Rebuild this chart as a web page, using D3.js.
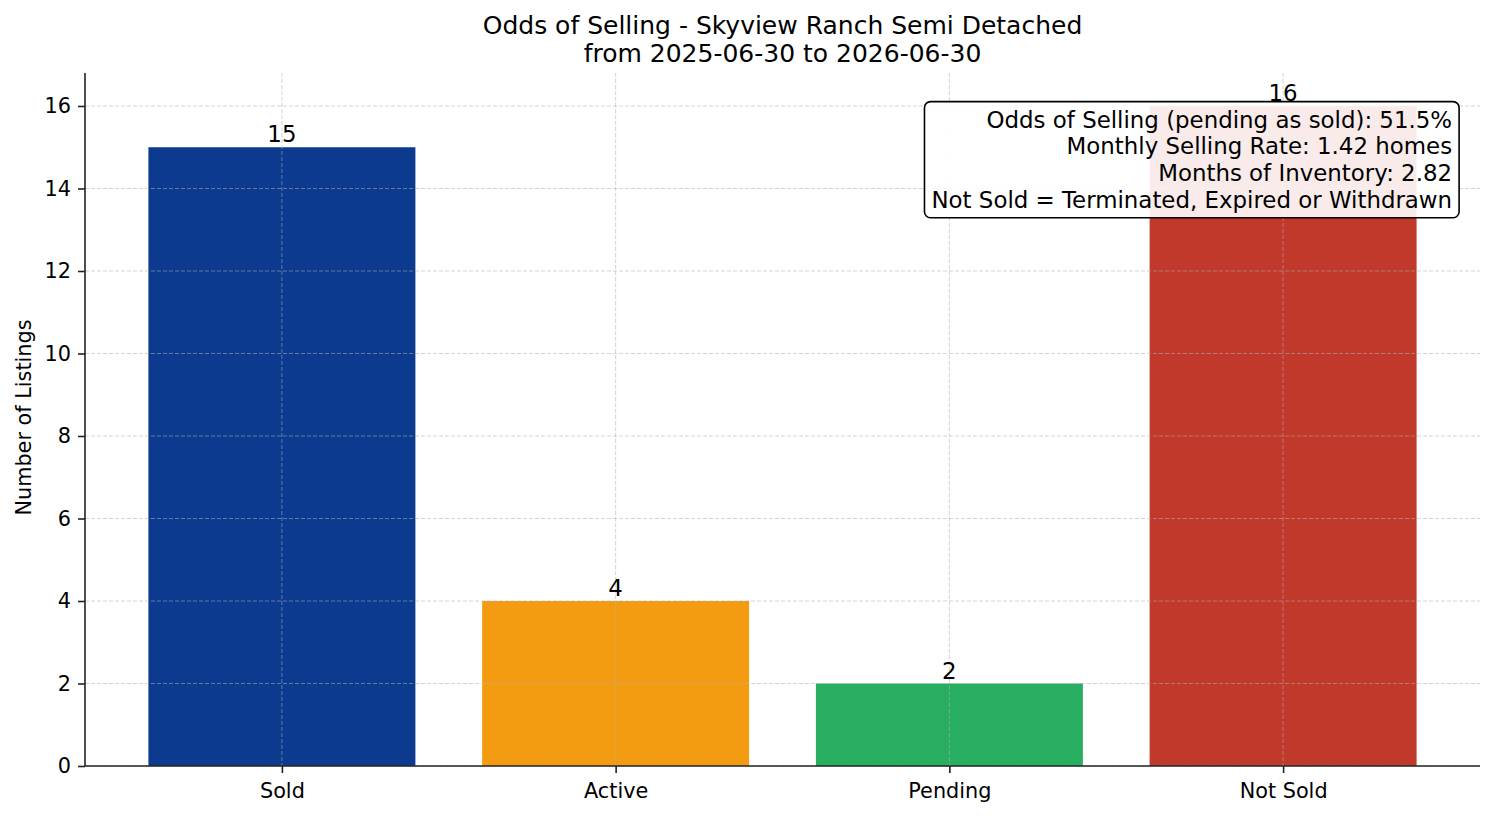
<!DOCTYPE html>
<html>
<head>
<meta charset="utf-8">
<script src="https://cdn.jsdelivr.net/npm/d3@7"></script>
<style>
  body { margin: 0; background: #fff; }
  svg text { font-family: 'DejaVu Sans', sans-serif; fill: #000; }
  .grid line { stroke: #b0b0b0; stroke-opacity: 0.55; stroke-width: 1px; stroke-dasharray: 4,2; }
  .domain { stroke: #222; stroke-width: 1.6px; }
  .tick line { stroke: #222; stroke-width: 1.6px; }
</style>
</head>
<body>
<div id="chart"></div>
<script>
// Data
const categories = ['Sold', 'Active', 'Pending', 'Not Sold'];
const counts = [15, 4, 2, 16];
const barColors = ['#0b3a8e', '#f39c12', '#27ae60', '#c0392b'];
const yTicks = [0, 2, 4, 6, 8, 10, 12, 14, 16];
const titleLines = ['Odds of Selling - Skyview Ranch Semi Detached', 'from 2025-06-30 to 2026-06-30'];
const statsLines = [
  'Odds of Selling (pending as sold): 51.5%',
  'Monthly Selling Rate: 1.42 homes',
  'Months of Inventory: 2.82',
  'Not Sold = Terminated, Expired or Withdrawn'
];

const W = 1494, H = 816;
const margin = { top: 73, right: 14, bottom: 50, left: 85 };
const width = W - margin.left - margin.right;
const height = H - margin.top - margin.bottom;

const svg = d3.select('#chart').append('svg')
  .attr('width', W).attr('height', H);

// Title
svg.append('text')
  .attr('x', margin.left + width / 2).attr('y', 34)
  .attr('text-anchor', 'middle').style('font-size', '25px')
  .selectAll('tspan').data(titleLines).join('tspan')
  .attr('x', margin.left + width / 2)
  .attr('dy', (d, i) => i === 0 ? 0 : 28)
  .text(d => d);

const g = svg.append('g').attr('transform', `translate(${margin.left},${margin.top})`);

// Scales: bars of width 0.8 on integer positions, 5% margins
const x = d3.scaleLinear().domain([-0.59, 3.59]).range([0, width]);
const y = d3.scaleLinear().domain([0, 16.8]).range([height, 0]);
const bw = 0.8;

// Bars
g.selectAll('.bar').data(counts).join('rect')
  .attr('class', 'bar')
  .attr('x', (d, i) => x(i - bw / 2))
  .attr('width', x(bw) - x(0))
  .attr('y', d => y(d))
  .attr('height', d => y(0) - y(d))
  .attr('fill', (d, i) => barColors[i]);

// Grid (drawn over bars)
g.append('g').attr('class', 'grid')
  .selectAll('line.h').data(yTicks).join('line')
  .attr('x1', 0).attr('x2', width)
  .attr('y1', d => y(d)).attr('y2', d => y(d));
g.append('g').attr('class', 'grid')
  .selectAll('line.v').data(categories).join('line')
  .attr('x1', (d, i) => x(i)).attr('x2', (d, i) => x(i))
  .attr('y1', 0).attr('y2', height);

// Axes
g.append('g')
  .attr('transform', `translate(0,${height})`)
  .call(d3.axisBottom(x).tickValues(d3.range(categories.length))
    .tickFormat(i => categories[i]).tickSize(7).tickPadding(10))
  .call(a => a.select('.domain').attr('d', `M0,0H${width}`))
  .selectAll('text').style('font-size', '20.8px');

g.append('g')
  .call(d3.axisLeft(y).tickValues(yTicks).tickSize(7).tickPadding(7))
  .call(a => a.select('.domain').attr('d', `M0,${height}V0`))
  .selectAll('text').style('font-size', '20.8px');

// Y label
svg.append('text')
  .attr('transform', `translate(31,${margin.top + height / 2 - 2}) rotate(-90)`)
  .attr('text-anchor', 'middle').style('font-size', '20.8px')
  .text('Number of Listings');

// Bar value labels
g.selectAll('.val').data(counts).join('text')
  .attr('class', 'val')
  .attr('x', (d, i) => x(i))
  .attr('y', d => y(d) - 5)
  .attr('text-anchor', 'middle').style('font-size', '22.9px')
  .text(d => d);

// Stats box
const lineH = 26.7;
const tx = width * 0.98;
const ty = height * 0.05;
const box = g.append('g');
const txt = box.append('text').attr('text-anchor', 'end').style('font-size', '22.9px');
txt.selectAll('tspan').data(statsLines).join('tspan')
  .attr('x', tx)
  .attr('y', (d, i) => ty + 20 + i * lineH)
  .text(d => d);
const bb = txt.node().getBBox();
box.insert('rect', 'text')
  .attr('x', bb.x - 7).attr('y', bb.y - 5)
  .attr('width', bb.width + 14).attr('height', bb.height + 10)
  .attr('rx', 6).attr('ry', 6)
  .attr('fill', 'rgba(255,255,255,0.9)')
  .attr('stroke', '#000').attr('stroke-width', 1.6);
</script>
</body>
</html>
